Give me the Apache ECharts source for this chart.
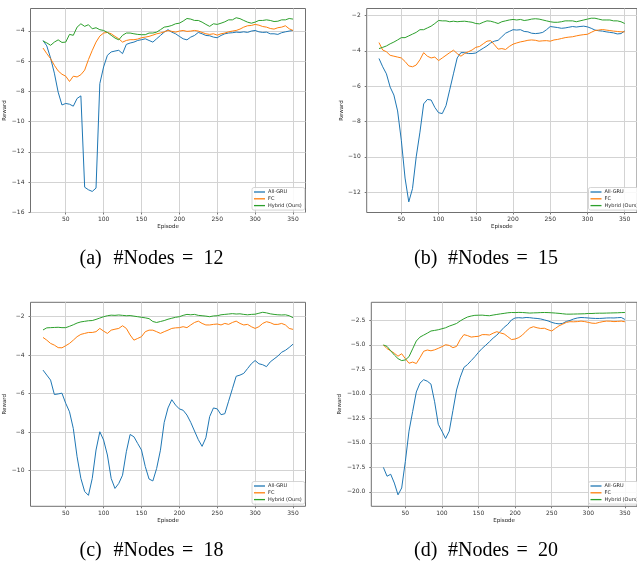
<!DOCTYPE html>
<html>
<head>
<meta charset="utf-8">
<script src="https://cdn.jsdelivr.net/npm/echarts@6/dist/echarts.min.js"></script>
<style>
html,body{margin:0;padding:0;background:#fff;}
#chart{width:637px;height:564px;}
</style>
</head>
<body>
<div id="chart"></div>
<script>
// ---------- data ----------
const EPISODES = [20,25,30,35,40,45,50,55,60,65,70,75,80,85,90,95,100,105,110,115,120,125,130,135,140,145,150,155,160,165,170,175,180,185,190,195,200,205,210,215,220,225,230,235,240,245,250,255,260,265,270,275,280,285,290,295,300,305,310,315,320,325,330,335,340,345,350];
const SERIES_NAMES = ['All-GRU', 'FC', 'Hybrid (Ours)'];
const PANEL_TAGS = ['(a)', '(b)', '(c)', '(d)'];
const NODE_COUNTS = ['12', '15', '18', '20'];
const X_TICKS = [50,100,150,200,250,300,350];
const Y_TICKS_12 = [-16,-14,-12,-10,-8,-6,-4];
const Y_TICKS_15 = [-12,-10,-8,-6,-4,-2];
const Y_TICKS_18 = [-10,-8,-6,-4,-2];
const Y_TICKS_20 = [-20,-17.5,-15,-12.5,-10,-7.5,-5,-2.5];

const N12_GRU = [-4.64,-5.0,-5.8,-6.8,-8.05,-8.9,-8.8,-8.85,-8.98,-8.47,
 -8.3,-14.33,-14.5,-14.61,-14.39,-7.49,-6.39,-5.62,-5.4,-5.34,
 -5.29,-5.51,-4.9,-4.81,-4.75,-4.64,-4.59,-4.53,-4.64,-4.75,
 -4.53,-4.31,-4.09,-3.93,-4.09,-4.2,-4.37,-4.53,-4.6,-4.42,
 -4.31,-4.11,-4.2,-4.31,-4.33,-4.42,-4.46,-4.31,-4.2,-4.15,
 -4.13,-4.09,-4.11,-4.07,-4.11,-4.02,-3.98,-4.07,-4.11,-4.09,
 -4.2,-4.2,-4.24,-4.13,-4.07,-4.02,-3.98];
const N12_FC = [-5.14,-5.51,-5.84,-6.28,-6.65,-6.87,-7.0,-7.35,-7.0,-7.05,
 -6.9,-6.6,-5.9,-5.3,-4.75,-4.35,-4.15,-4.11,-4.2,-4.37,
 -4.53,-4.75,-4.64,-4.59,-4.59,-4.55,-4.46,-4.42,-4.37,-4.29,
 -4.2,-4.15,-4.07,-3.98,-4.04,-4.09,-4.02,-3.98,-4.04,-4.02,
 -3.98,-4.02,-4.11,-4.2,-4.24,-4.2,-4.29,-4.2,-4.15,-4.07,
 -4.02,-3.98,-3.89,-3.76,-3.67,-3.65,-3.58,-3.63,-3.72,-3.76,
 -3.85,-3.89,-3.8,-3.76,-3.67,-3.87,-3.98];
const N12_HY = [-4.68,-4.8,-4.96,-4.75,-4.6,-4.77,-4.75,-4.24,-4.3,-3.76,
 -3.54,-3.71,-3.6,-3.87,-3.8,-3.93,-3.98,-4.11,-4.3,-4.48,
 -4.6,-4.3,-4.15,-4.15,-4.2,-4.24,-4.26,-4.26,-4.15,-4.15,
 -4.09,-3.93,-3.76,-3.72,-3.65,-3.54,-3.5,-3.36,-3.19,-3.23,
 -3.32,-3.32,-3.43,-3.58,-3.71,-3.54,-3.58,-3.5,-3.41,-3.28,
 -3.28,-3.14,-3.2,-3.32,-3.43,-3.5,-3.43,-3.32,-3.32,-3.28,
 -3.32,-3.39,-3.37,-3.28,-3.28,-3.19,-3.23];

const N15_GRU = [-4.43,-4.9,-5.3,-6.05,-6.5,-7.4,-9.06,-11.2,-12.55,-11.8,
 -10.0,-8.6,-7.0,-6.75,-6.78,-7.2,-7.5,-7.55,-7.1,-6.2,
 -5.3,-4.4,-4.1,-4.1,-4.15,-4.15,-4.12,-3.98,-3.85,-3.72,
 -3.55,-3.45,-3.4,-3.2,-3.0,-2.9,-2.8,-2.82,-2.8,-2.9,
 -2.92,-3.0,-3.02,-3.0,-2.95,-2.8,-2.62,-2.65,-2.68,-2.72,
 -2.7,-2.66,-2.62,-2.65,-2.62,-2.6,-2.64,-2.72,-2.82,-2.86,
 -2.88,-2.92,-2.95,-2.98,-3.04,-3.02,-2.87];
const N15_FC = [-3.53,-3.95,-4.05,-4.25,-4.3,-4.35,-4.4,-4.6,-4.85,-4.9,
 -4.8,-4.5,-4.1,-4.3,-4.4,-4.35,-4.55,-4.4,-4.25,-4.1,
 -3.96,-4.15,-4.3,-4.15,-4.05,-3.95,-3.8,-3.75,-3.6,-3.45,
 -3.42,-3.65,-3.9,-3.87,-3.92,-3.75,-3.62,-3.55,-3.49,-3.45,
 -3.4,-3.38,-3.4,-3.45,-3.43,-3.42,-3.45,-3.38,-3.35,-3.3,
 -3.25,-3.22,-3.2,-3.15,-3.11,-3.08,-3.06,-2.95,-2.85,-2.82,
 -2.79,-2.82,-2.85,-2.88,-2.9,-2.92,-2.92];
const N15_HY = [-3.87,-3.8,-3.72,-3.6,-3.5,-3.38,-3.25,-3.25,-3.15,-3.05,
 -2.95,-2.8,-2.8,-2.7,-2.6,-2.45,-2.28,-2.3,-2.3,-2.35,
 -2.32,-2.35,-2.33,-2.32,-2.35,-2.38,-2.45,-2.47,-2.38,-2.3,
 -2.32,-2.38,-2.45,-2.35,-2.3,-2.25,-2.22,-2.25,-2.22,-2.28,
 -2.25,-2.2,-2.18,-2.2,-2.25,-2.3,-2.35,-2.38,-2.38,-2.35,
 -2.3,-2.3,-2.3,-2.35,-2.3,-2.25,-2.2,-2.15,-2.15,-2.2,
 -2.25,-2.25,-2.25,-2.3,-2.3,-2.35,-2.45];

const N18_GRU = [-4.78,-5.04,-5.3,-6.05,-6.02,-5.98,-6.51,-6.95,-7.82,-9.29,
 -10.42,-11.1,-11.3,-10.42,-8.94,-7.99,-8.42,-9.2,-10.42,-10.94,
 -10.68,-10.25,-9.03,-8.13,-8.25,-8.6,-8.94,-9.8,-10.45,-10.55,
 -9.9,-8.95,-7.5,-6.75,-6.32,-6.6,-6.8,-6.87,-7.12,-7.5,
 -7.95,-8.4,-8.75,-8.3,-7.2,-6.75,-6.8,-7.1,-7.05,-6.4,
 -5.75,-5.1,-5.04,-4.95,-4.7,-4.45,-4.28,-4.45,-4.5,-4.6,
 -4.35,-4.2,-4.05,-3.85,-3.75,-3.6,-3.43];
const N18_FC = [-3.08,-3.22,-3.39,-3.48,-3.61,-3.62,-3.51,-3.39,-3.22,-3.04,
 -2.92,-2.87,-2.82,-2.82,-2.78,-2.61,-2.75,-2.87,-2.7,-2.65,
 -2.61,-2.47,-2.61,-2.95,-3.22,-3.13,-3.04,-2.78,-2.7,-2.7,
 -2.78,-2.87,-2.78,-2.7,-2.61,-2.58,-2.57,-2.52,-2.57,-2.43,
 -2.3,-2.23,-2.35,-2.43,-2.43,-2.4,-2.38,-2.43,-2.35,-2.4,
 -2.3,-2.23,-2.35,-2.43,-2.4,-2.52,-2.61,-2.52,-2.35,-2.26,
 -2.31,-2.4,-2.4,-2.35,-2.43,-2.61,-2.66];
const N18_HY = [-2.69,-2.58,-2.57,-2.56,-2.55,-2.57,-2.57,-2.5,-2.42,-2.33,
 -2.27,-2.24,-2.21,-2.2,-2.14,-2.07,-2.0,-1.95,-1.92,-1.93,
 -1.91,-1.93,-1.95,-1.94,-1.97,-2.0,-2.03,-2.06,-2.1,-2.25,
 -2.3,-2.25,-2.2,-2.13,-2.08,-2.03,-2.0,-1.93,-1.88,-1.9,
 -1.88,-1.93,-1.95,-1.97,-2.0,-1.96,-1.95,-1.9,-1.88,-1.86,
 -1.84,-1.86,-1.85,-1.88,-1.9,-1.88,-1.87,-1.82,-1.77,-1.8,
 -1.85,-1.88,-1.9,-1.91,-1.9,-1.95,-2.05];

const N20_GRU = [-17.5,-18.4,-18.2,-19.1,-20.3,-19.6,-16.9,-13.8,-11.8,-9.8,
 -8.9,-8.55,-8.7,-9.0,-10.8,-13.1,-13.8,-14.55,-13.8,-11.7,
 -9.6,-8.3,-7.3,-7.0,-6.6,-6.2,-5.75,-5.35,-5.02,-4.67,
 -4.3,-4.0,-3.6,-3.2,-2.9,-2.45,-2.25,-2.22,-2.25,-2.2,
 -2.22,-2.27,-2.3,-2.35,-2.45,-2.55,-2.7,-2.8,-2.85,-2.8,
 -2.6,-2.5,-2.35,-2.25,-2.2,-2.22,-2.25,-2.28,-2.3,-2.3,
 -2.28,-2.25,-2.24,-2.25,-2.22,-2.2,-2.4];
const N20_FC = [-5.0,-5.38,-5.6,-5.85,-6.15,-5.9,-6.4,-6.87,-6.75,-6.9,
 -6.3,-5.65,-5.52,-5.6,-5.5,-5.35,-5.18,-4.98,-5.05,-5.28,
 -5.15,-4.45,-3.95,-4.05,-4.2,-4.15,-4.12,-3.95,-3.95,-3.99,
 -3.8,-3.65,-3.78,-3.88,-4.16,-4.45,-4.4,-4.25,-3.99,-3.6,
 -3.28,-3.14,-3.25,-3.32,-3.3,-3.45,-3.58,-3.31,-3.05,-2.88,
 -2.7,-2.63,-2.64,-2.62,-2.57,-2.62,-2.7,-2.78,-2.8,-2.7,
 -2.62,-2.57,-2.58,-2.62,-2.6,-2.57,-2.64];
const N20_HY = [-5.0,-5.15,-5.6,-6.03,-6.4,-6.6,-6.53,-6.2,-5.4,-4.6,
 -4.2,-4.0,-3.8,-3.58,-3.52,-3.45,-3.35,-3.25,-3.08,-2.95,
 -2.81,-2.55,-2.33,-2.15,-2.05,-1.98,-1.97,-1.96,-2.0,-2.02,
 -1.95,-1.89,-1.83,-1.78,-1.72,-1.69,-1.7,-1.68,-1.69,-1.72,
 -1.75,-1.73,-1.72,-1.7,-1.69,-1.7,-1.72,-1.75,-1.78,-1.82,
 -1.86,-1.86,-1.85,-1.84,-1.83,-1.82,-1.79,-1.79,-1.77,-1.76,
 -1.76,-1.75,-1.74,-1.73,-1.72,-1.7,-1.69];

// ---------- layout / style ----------
const COLORS = ['#1f77b4', '#ff7f0e', '#2ca02c'];
const FONT = 'DejaVu Sans';
const X_RANGE = [3.5, 366.5];

const panels = [
  { grid: {left: 30.5, top: 8.5, width: 275, height: 204}, yRange: [-16, -2.53], yTicks: Y_TICKS_12, dec: 0, nameGap: 16,
    data: [N12_GRU, N12_FC, N12_HY], legend: {left: 252, top: 187.5}, cap: [79.5, 259] },
  { grid: {left: 366.7, top: 8.5, width: 275, height: 204}, yRange: [-13.15, -1.6], yTicks: Y_TICKS_15, dec: 0, nameGap: 17,
    data: [N15_GRU, N15_FC, N15_HY], legend: {left: 588.5, top: 187.5}, cap: [414, 259] },
  { grid: {left: 30.5, top: 302.3, width: 275, height: 204}, yRange: [-11.87, -1.25], yTicks: Y_TICKS_18, dec: 0, nameGap: 16,
    data: [N18_GRU, N18_FC, N18_HY], legend: {left: 252, top: 481.5}, cap: [79.5, 551] },
  { grid: {left: 371.3, top: 302.3, width: 275, height: 204}, yRange: [-21.47, -0.65], yTicks: Y_TICKS_20, dec: 1, nameGap: 20.5,
    data: [N20_GRU, N20_FC, N20_HY], legend: {left: 588.5, top: 481.5}, cap: [414, 551] }
];

function fmt(v, dec) {
  const s = Math.abs(v).toFixed(dec);
  return (v < 0 ? '\u2212' : '') + s;
}

const option = {
  animation: false,
  backgroundColor: '#ffffff',
  grid: [], xAxis: [], yAxis: [], series: [], legend: [], graphic: []
};

function capText(x, y, text) {
  return {
    type: 'text', x: x, y: y,
    style: { text: text, fontSize: 20, fontFamily: 'Liberation Serif', fill: '#000',
      align: 'left', verticalAlign: 'middle', textAlign: 'left', textVerticalAlign: 'middle' }
  };
}

panels.forEach((p, i) => {
  option.grid.push(Object.assign({ show: true, borderColor: '#707070', borderWidth: 1, backgroundColor: 'transparent' }, p.grid));
  option.xAxis.push({
    type: 'value', gridIndex: i, min: X_RANGE[0], max: X_RANGE[1],
    name: 'Episode', nameLocation: 'middle', nameGap: 9.5,
    nameTextStyle: { fontSize: 5.5, color: '#222', fontFamily: FONT },
    axisLine: { show: false },
    axisTick: { show: true, length: 2, lineStyle: { color: '#777' }, customValues: X_TICKS },
    axisLabel: { customValues: X_TICKS, fontSize: 6, color: '#333', margin: 4, fontFamily: FONT },
    splitLine: { show: true, lineStyle: { color: '#d3d3d3', width: 1 } }
  });
  option.yAxis.push({
    type: 'value', gridIndex: i, min: p.yRange[0], max: p.yRange[1],
    name: 'Reward', nameLocation: 'middle', nameGap: p.nameGap,
    nameTextStyle: { fontSize: 5.5, color: '#222', fontFamily: FONT },
    axisLine: { show: false },
    axisTick: { show: true, length: 2, lineStyle: { color: '#777' }, customValues: p.yTicks },
    axisLabel: { customValues: p.yTicks, fontSize: 6, color: '#333', margin: 6, fontFamily: FONT,
      formatter: (v) => fmt(v, p.dec) },
    splitLine: { show: true, lineStyle: { color: '#d3d3d3', width: 1 } }
  });
  p.data.forEach((vals, k) => {
    option.series.push({
      type: 'line', name: SERIES_NAMES[k], xAxisIndex: i, yAxisIndex: i,
      data: EPISODES.map((e, j) => [e, vals[j]]),
      symbol: 'none', showSymbol: false, z: 2 + k,
      lineStyle: { width: 1, color: COLORS[k] }, itemStyle: { color: COLORS[k] }
    });
  });
  option.legend.push({
    show: true, orient: 'vertical', left: p.legend.left, top: p.legend.top,
    data: SERIES_NAMES.map((n, k) => ({ name: n, icon: 'rect', itemStyle: { color: COLORS[k] } })),
    selectedMode: false,
    itemWidth: 11, itemHeight: 1.3, itemGap: 1.8,
    padding: [2, 3, 2, 2],
    borderColor: '#cccccc', borderWidth: 0.8, borderRadius: 2,
    backgroundColor: 'rgba(255,255,255,0.85)',
    textStyle: { fontSize: 5, lineHeight: 5, color: '#222', fontFamily: FONT, padding: [0, 0, 0, -2] }
  });
  const cx = p.cap[0], cy = p.cap[1];
  option.graphic.push(capText(cx, cy, PANEL_TAGS[i]));
  option.graphic.push(capText(cx + 34, cy, '#Nodes'));
  option.graphic.push(capText(cx + 102.5, cy, '='));
  option.graphic.push(capText(cx + 124, cy, NODE_COUNTS[i]));
});

const chart = echarts.init(document.getElementById('chart'), null, { renderer: 'canvas', width: 637, height: 564 });
chart.setOption(option);
</script>
</body>
</html>
